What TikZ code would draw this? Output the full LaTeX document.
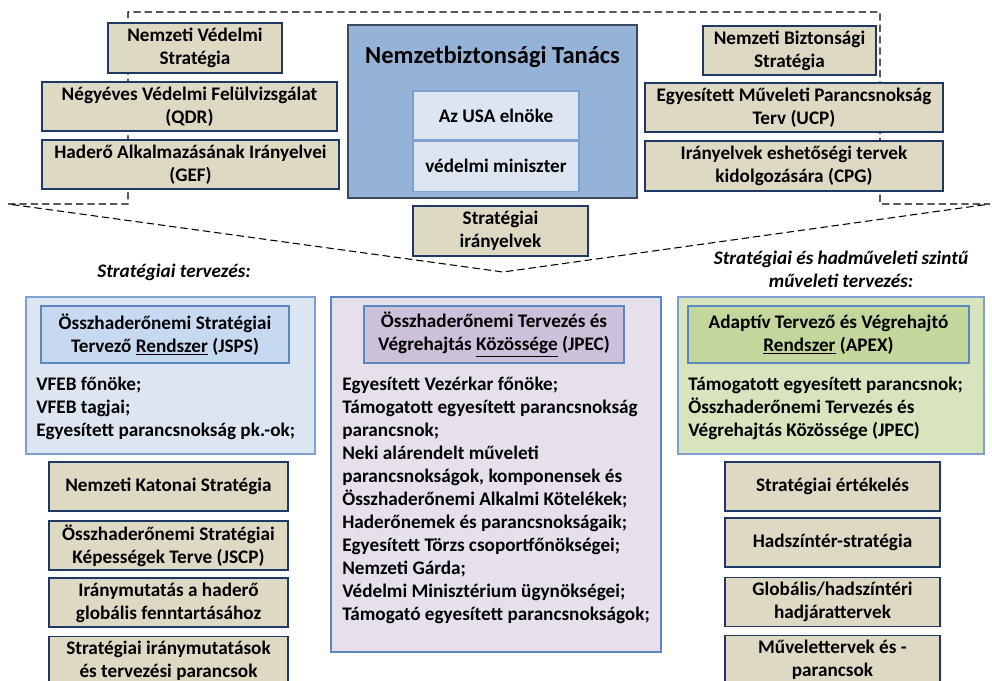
\documentclass[tikz,border=0pt]{standalone}
\usepackage{fontspec}
\setmainfont{Carlito}
\usetikzlibrary{positioning}

\definecolor{tanfill}{HTML}{DDD9C3}
\definecolor{tanline}{HTML}{1F3864}
\definecolor{nscfill}{HTML}{95B3D7}
\definecolor{nscline}{HTML}{3B4A5C}
\definecolor{palefill}{HTML}{DCE6F2}
\definecolor{paleline}{HTML}{7F9FCF}
\definecolor{jspsfill}{HTML}{C6D9F1}
\definecolor{blueline}{HTML}{5B86C0}
\definecolor{lilacfill}{HTML}{E6E0EC}
\definecolor{jpecfill}{HTML}{CCC1DA}
\definecolor{greenfill}{HTML}{D7E4BD}
\definecolor{apexfill}{HTML}{C3D69B}

\begin{document}
\begin{tikzpicture}[x=0.75pt, y=-0.75pt,
    font=\bfseries\fontsize{14.4}{17.25}\selectfont,
    box/.style 2 args={draw, line width=0.8pt, align=center, inner sep=0pt,
        minimum width=#1*0.75pt, minimum height=#2*0.75pt},
    docbox/.style={fill=tanfill, draw=tanline},
    list/.style={anchor=north west, align=left, inner sep=0pt},
    head/.style={font=\bfseries\itshape\fontsize{14.4}{17.25}\selectfont, align=center}]

    \useasboundingbox (0,0) rectangle (992,681);

    % Dashed outline of the strategic level
    \draw[dashed, dash pattern=on 5.5pt off 3pt, line width=0.8pt, black]
        (8,204) -- (128,204) -- (128,12) -- (880,12) -- (880,204)
        -- (990,204) -- (503,272) -- cycle;

    % National Security Council
    \node[box={289}{173}, fill=nscfill, draw=nscline] (nbt) at (492.5,111.5) {};
    \node[font=\bfseries\fontsize{18.4}{22}\selectfont] (ntitle) at (492.5,57) {Nemzetbiztonsági Tanács};
    \node[box={166}{49}, fill=palefill, draw=paleline] (elnok) at (496,115.5) {Az USA elnöke};
    \node[box={166}{50}, fill=palefill, draw=paleline, below=0pt of elnok] (minis) {védelmi miniszter};
    \node[box={175}{50}, docbox] (irany) at (500.5,231) {Stratégiai\\irányelvek};

    % Left documents
    \node[box={174}{50}, docbox] (nvs) at (195,48) {Nemzeti Védelmi\\Stratégia};
    \node[box={295}{49}, docbox] (qdr) at (189.5,106.5) {Négyéves Védelmi Felülvizsgálat\\(QDR)};
    \node[box={297}{49}, docbox] (gef) at (190.5,164.5) {Haderő Alkalmazásának Irányelvei\\(GEF)};

    % Right documents
    \node[box={173}{49}, docbox] (nbs) at (789.5,50.5) {Nemzeti Biztonsági\\Stratégia};
    \node[box={298}{49}, docbox] (ucp) at (794,107.5) {Egyesített Műveleti Parancsnokság\\Terv (UCP)};
    \node[box={298}{50}, docbox] (cpg) at (794,166) {Irányelvek eshetőségi tervek\\kidolgozására (CPG)};

    % Planning headings
    \node[head] (lhead) at (174,272) {Stratégiai tervezés:};
    \node[head] (rhead) at (841,269.5) {Stratégiai és hadműveleti szintű\\műveleti tervezés:};

    % Left panel (JSPS)
    \node[box={289}{157}, fill=palefill, draw=paleline] (lpanel) at (170.5,375.5) {};
    \node[box={248}{57}, fill=jspsfill, draw=blueline] (jsps) at (165,334.5)
        {Összhaderőnemi Stratégiai\\Tervező \underline{Rendszer} (JSPS)};
    \node[list] (lteam) at (36,374) {\strut VFEB főnöke;\\VFEB tagjai;\\Egyesített parancsnokság pk.-ok;};

    % Middle panel (JPEC)
    \node[box={330}{355}, fill=lilacfill, draw=blueline] (mpanel) at (496,474.5) {};
    \node[box={260}{57}, fill=jpecfill, draw=blueline] (jpec) at (494,334.5)
        {Összhaderőnemi Tervezés és\\Végrehajtás \underline{Közössége} (JPEC)};
    \node[list] (mteam) at (342,374) {\strut Egyesített Vezérkar főnöke;\\
        Támogatott egyesített parancsnokság\\parancsnok;\\
        Neki alárendelt műveleti\\parancsnokságok, komponensek és\\
        Összhaderőnemi Alkalmi Kötelékek;\\
        Haderőnemek és parancsnokságaik;\\
        Egyesített Törzs csoportfőnökségei;\\
        Nemzeti Gárda;\\
        Védelmi Minisztérium ügynökségei;\\
        Támogató egyesített parancsnokságok;};

    % Right panel (APEX)
    \node[box={306}{157}, fill=greenfill, draw=paleline] (rpanel) at (831,375.5) {};
    \node[box={281}{57}, fill=apexfill, draw=blueline] (apex) at (828.5,334.5)
        {Adaptív Tervező és Végrehajtó\\\underline{Rendszer} (APEX)};
    \node[list] (rteam) at (688,374) {\strut Támogatott egyesített parancsnok;\\
        Összhaderőnemi Tervezés és\\Végrehajtás Közössége (JPEC)};

    % Strategic planning products
    \foreach \i/\y/\txt in {1/486.5/{Nemzeti Katonai Stratégia},
        2/545.5/{Összhaderőnemi Stratégiai\\Képességek Terve (JSCP)},
        3/602.5/{Iránymutatás a haderő\\globális fenntartásához},
        4/661/{Stratégiai iránymutatások\\és tervezési parancsok}} {
        \node[box={239}{49}, docbox] (lplan-\i) at (168.5,\y) {\txt};
    }

    % Operational planning products
    \foreach \i/\y/\txt in {1/486.5/{Stratégiai értékelés},
        2/542.5/{Hadszíntér-stratégia},
        3/602/{Globális/hadszíntéri\\hadjárattervek},
        4/660/{Művelettervek és -\\parancsok}} {
        \node[box={215}{49}, docbox] (rplan-\i) at (832.5,\y) {\txt};
    }

\end{tikzpicture}
\end{document}
